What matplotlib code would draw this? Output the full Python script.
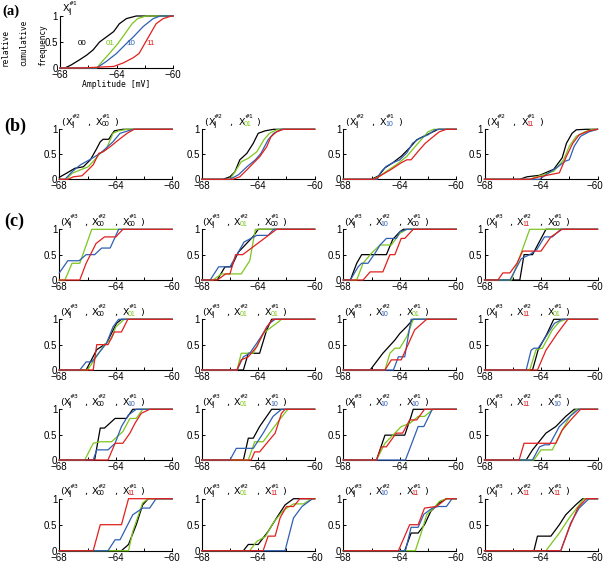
import numpy as np
import matplotlib.pyplot as plt
from matplotlib.transforms import ScaledTranslation

# colours of the four classes 00, 01, 10, 11
COLORS = {'00': '#000000', '01': '#7dc61e', '10': '#2f5fb4', '11': '#e0201e'}
CLASSES = ['00', '01', '10', '11']
XMIN, XMAX = -68, -60

# ---- (a) cumulative curves, (mV, relative cumulative frequency)
A = {
    '00': [(-67.65, 0), (-67.2, .06), (-66.6, .16), (-66.1, .25), (-65.65, .35), (-65.2, .5),
           (-64.7, .6), (-64.2, .7), (-63.8, .85), (-63.3, .95), (-62.6, 1)],
    '01': [(-65.4, 0), (-64.9, .16), (-64.5, .28), (-63.9, .47), (-63.4, .66), (-62.9, .85),
           (-62.5, .95), (-61.9, 1)],
    '10': [(-65.4, 0), (-64.7, .13), (-64.0, .28), (-63.3, .47), (-62.8, .6), (-62.1, .8),
           (-61.4, .95), (-60.9, 1)],
    '11': [(-66.5, 0), (-64.2, .03), (-63.5, .1), (-62.8, .2), (-62.4, .28), (-62.0, .47),
           (-61.6, .66), (-61.2, .85), (-60.7, .95), (-60.1, 1)],
}
A_LABEL_POS = {'00': (-66.4, .45), '01': (-64.45, .45), '10': (-63.0, .45), '11': (-61.6, .45)}

# ---- (b) X#2 given X#1
B_COND = ['00', '01', '10', '11']
B = [
    {'00': [(-68, .04), (-67.5, .12), (-66.9, .22), (-66.3, .25), (-65.8, .39), (-65.4, .59),
            (-65.1, .75), (-64.9, .8), (-64.5, .8), (-64.3, .89), (-64.1, .97), (-63.5, 1)],
     '01': [(-67.5, 0), (-67.1, .12), (-66.5, .19), (-65.95, .25), (-65.5, .39), (-65.1, .52),
            (-64.7, .59), (-64.3, .85), (-64.2, .92), (-63.8, .97), (-63.2, 1)],
     '10': [(-67.6, 0), (-67.1, .15), (-66.5, .29), (-65.8, .4), (-65.1, .52), (-64.7, .62),
            (-64.2, .75), (-63.7, .92), (-63.0, .98), (-62.7, 1)],
     '11': [(-67.4, 0), (-67.0, .05), (-66.4, .07), (-66.1, .15), (-65.6, .29), (-65.2, .52),
            (-64.9, .55), (-64.4, .65), (-63.8, .79), (-63.2, .92), (-62.7, 1)]},
    {'00': [(-66.5, 0), (-66.0, .05), (-65.65, .15), (-65.3, .39), (-64.8, .52), (-64.35, .72),
            (-64.0, .92), (-63.5, .97), (-62.9, 1)],
     '01': [(-66.0, 0), (-65.65, .15), (-65.2, .35), (-64.7, .42), (-64.1, .55), (-63.6, .79),
            (-63.2, .92), (-62.7, .99), (-62.35, 1)],
     '10': [(-66.0, 0), (-65.4, .09), (-64.8, .25), (-64.2, .39), (-63.8, .52), (-63.3, .79),
            (-62.9, .92), (-62.35, 1)],
     '11': [(-65.8, 0), (-65.3, .05), (-64.8, .19), (-64.35, .32), (-63.9, .45), (-63.4, .65),
            (-63.1, .85), (-62.7, .95), (-62.2, 1)]},
    {'00': [(-66.0, 0), (-65.5, .07), (-65.05, .23), (-64.5, .33), (-63.9, .46), (-63.3, .63),
            (-62.8, .79), (-62.1, .89), (-61.5, .97), (-61.3, 1)],
     '01': [(-65.9, 0), (-65.4, .07), (-64.95, .16), (-64.2, .3), (-63.5, .46), (-62.9, .66),
            (-62.4, .82), (-62.0, .95), (-61.6, 1)],
     '10': [(-65.6, 0), (-65.3, .16), (-64.95, .26), (-64.5, .33), (-64.0, .39), (-63.5, .53),
            (-63.1, .72), (-62.6, .82), (-62.0, .89), (-61.5, .99), (-61.2, 1)],
     '11': [(-65.8, 0), (-65.2, .1), (-64.6, .2), (-63.9, .33), (-63.5, .39), (-63.2, .39),
            (-62.7, .56), (-62.2, .72), (-61.6, .86), (-61.2, .95), (-60.7, 1)]},
    {'00': [(-65.5, 0), (-65.0, .05), (-64.1, .08), (-63.1, .2), (-62.5, .43), (-62.2, .72),
            (-61.8, .92), (-61.5, .99), (-60.8, 1)],
     '01': [(-64.8, 0), (-64.1, .07), (-63.1, .16), (-62.4, .39), (-62.0, .66), (-61.5, .86),
            (-60.9, .95), (-60.35, 1)],
     '10': [(-64.1, 0), (-63.6, .1), (-62.9, .23), (-62.3, .36), (-62.0, .39), (-61.65, .66),
            (-61.2, .86), (-60.6, .95), (-60.0, 1)],
     '11': [(-64.8, 0), (-64.1, .05), (-62.7, .13), (-62.2, .46), (-61.75, .72), (-61.3, .89),
            (-60.6, .97), (-60.0, 1)]},
]

# ---- (c) X#3 given (X#2, X#1); rows = X#1, cols = X#2
C_COND = [(r, c) for r in CLASSES for c in CLASSES]   # (X#1, X#2)
C = [
    # row X#1 = 00
    {'01': [(-67.6, 0), (-67.1, .33), (-66.55, .33), (-65.7, 1)],
     '10': [(-68, .14), (-67.4, .38), (-66.6, .38), (-66.1, .5), (-65.5, .5), (-65.0, .63),
            (-64.4, .63), (-63.8, 1)],
     '11': [(-66.55, 0), (-66.1, .33), (-65.4, .72), (-64.8, .85), (-64.0, .85), (-63.5, 1)]},
    {'00': [(-66.9, 0), (-66.35, .26), (-65.9, .26), (-65.4, .55), (-64.35, .86), (-64.0, 1)],
     '01': [(-67.2, 0), (-66.6, .12), (-65.2, .12), (-64.6, .38), (-64.2, 1)],
     '10': [(-67.4, 0), (-66.8, .26), (-66.0, .26), (-65.0, .75), (-64.1, .88), (-63.3, .88),
            (-62.9, 1)],
     '11': [(-66.9, 0), (-66.3, .12), (-66.0, .12), (-65.6, .5), (-65.1, .5), (-62.7, 1)]},
    {'00': [(-67.5, 0), (-67.05, .33), (-66.7, .5), (-64.95, .5), (-64.5, .8), (-64.0, .95),
            (-63.75, 1)],
     '01': [(-67.05, 0), (-66.6, .33), (-66.0, .53), (-65.4, .69), (-64.6, .69), (-64.0, .92),
            (-63.5, 1)],
     '10': [(-67.5, 0), (-66.95, .26), (-66.7, .33), (-66.25, .33), (-65.75, .53), (-65.4, .69),
            (-64.95, .82), (-64.25, .82), (-64.0, .95), (-63.5, 1)],
     '11': [(-66.6, 0), (-66.1, .16), (-65.2, .16), (-64.7, .5), (-64.35, .5), (-63.9, .82),
            (-63.65, .82), (-63.05, 1)]},
    {'00': [(-65.5, 0), (-65.2, .5), (-64.6, .5), (-63.65, 1)],
     '01': [(-66.1, 0), (-64.8, 1)],
     '10': [(-66.2, 0), (-65.4, .42), (-64.8, .5), (-64.3, .6), (-63.75, .85), (-63.2, .85),
            (-62.6, 1)],
     '11': [(-67.05, 0), (-66.7, .14), (-66.2, .14), (-65.7, .33), (-65.3, .57), (-64.0, .57),
            (-63.3, .85), (-62.5, 1)]},
    # row X#1 = 01
    {'00': [(-66.1, 0), (-65.35, .4), (-64.65, .53), (-63.95, .92), (-63.6, 1)],
     '01': [(-66.0, 0), (-64.8, .5), (-64.3, .62), (-64.0, .85), (-63.4, 1)],
     '10': [(-66.55, 0), (-66.1, .16), (-65.7, .16), (-64.65, .53), (-64.2, .85), (-63.8, 1)],
     '11': [(-65.6, 0), (-65.35, .5), (-64.55, .5), (-64.1, .75), (-63.6, .75), (-63.15, 1)]},
    {'00': [(-65.05, 0), (-64.7, .33), (-63.9, .33), (-63.4, .79), (-63.05, 1)],
     '01': [(-65.5, 0), (-65.2, .33), (-64.35, .33), (-63.65, .72), (-63.05, .85), (-62.7, .92),
            (-62.35, 1)],
     '10': [(-65.5, 0), (-65.05, .26), (-64.6, .33), (-64.1, .53), (-63.65, .72), (-63.2, .92),
            (-62.8, 1)],
     '11': [(-65.5, 0), (-65.2, .2), (-64.7, .26), (-64.1, .46), (-63.75, .66), (-63.4, .85),
            (-62.95, 1)]},
    {'00': [(-66.1, 0), (-65.2, .33), (-64.35, .59), (-64.0, .72), (-63.5, .86), (-63.05, 1)],
     '01': [(-65.05, 0), (-64.7, .33), (-64.35, .43), (-64.0, .43), (-63.5, .66), (-63.05, 1)],
     '10': [(-64.45, 0), (-64.1, .26), (-63.65, .26), (-63.2, 1)],
     '11': [(-65.05, 0), (-64.6, .2), (-63.9, .2), (-62.95, .79), (-62.1, 1)]},
    {'00': [(-64.6, 0), (-64.2, .4), (-63.6, .7), (-63.1, 1)],
     '01': [(-64.8, 0), (-64.35, .4), (-63.9, .43), (-63.2, .79), (-62.7, .95), (-62.25, 1)],
     '10': [(-65.05, 0), (-64.7, .39), (-64.5, .43), (-64.2, .43), (-63.65, .66), (-63.05, .92),
            (-62.5, 1)],
     '11': [(-64.25, 0), (-63.65, .39), (-62.85, .72), (-62.1, 1)]},
    # row X#1 = 10
    {'00': [(-65.5, 0), (-65.1, .63), (-64.8, .63), (-64.05, .82), (-63.25, .82), (-62.8, 1)],
     '01': [(-66.2, 0), (-65.6, .33), (-65.1, .36), (-64.3, .36), (-63.5, .56), (-63.0, .82),
            (-62.55, .82), (-62.1, 1)],
     '10': [(-65.6, 0), (-65.35, .2), (-64.55, .2), (-64.05, .33), (-63.6, .66), (-63.1, .89),
            (-62.55, 1)],
     '11': [(-64.55, 0), (-64.05, .33), (-63.5, .33), (-63.0, .53), (-62.65, .72), (-62.2, .92),
            (-61.6, 1)]},
    {'00': [(-65.05, 0), (-64.7, .43), (-64.35, .43), (-63.9, .66), (-63.4, .86), (-63.05, 1)],
     '01': [(-64.7, 0), (-64.25, .36), (-63.65, .36), (-63.2, .53), (-62.5, .79), (-61.9, 1)],
     '10': [(-66.0, 0), (-65.55, .23), (-64.35, .23), (-63.65, .53), (-62.95, .86), (-62.35, 1)],
     '11': [(-64.5, 0), (-64.25, .16), (-63.9, .16), (-63.4, .33), (-62.8, .53), (-62.35, .92),
            (-62.1, 1)]},
    {'00': [(-65.65, 0), (-65.05, .49), (-63.65, .49), (-63.2, .86), (-63.05, 1)],
     '01': [(-65.65, 0), (-65.05, .33), (-64.35, .53), (-63.9, .66), (-63.3, .72), (-62.7, .86),
            (-62.25, .86), (-61.65, 1)],
     '10': [(-63.6, 0), (-62.7, .66), (-62.3, .66), (-61.7, 1)],
     '11': [(-65.65, 0), (-65.3, .26), (-64.95, .26), (-64.25, .53), (-63.8, .53), (-63.3, .79),
            (-62.8, .79), (-62.25, 1)]},
    {'00': [(-65.05, 0), (-64.6, .2), (-63.65, .53), (-62.95, .66), (-62.25, .86), (-61.65, 1)],
     '01': [(-64.5, 0), (-64.0, .2), (-63.2, .2), (-62.5, .59), (-61.95, .86), (-61.5, 1)],
     '10': [(-64.6, 0), (-64.1, .26), (-63.75, .3), (-63.4, .3), (-62.7, .66), (-61.95, .86),
            (-61.35, 1)],
     '11': [(-65.55, 0), (-65.2, .33), (-62.95, .33), (-62.5, .59), (-61.8, .82), (-61.2, 1)]},
    # row X#1 = 11
    {'00': [(-63.6, 0), (-63.1, .12), (-62.55, .5), (-62.1, .88), (-61.7, 1)],
     '01': [(-63.1, 0), (-62.8, .37), (-62.3, .76), (-62.1, .92), (-61.7, 1)],
     '10': [(-64.55, 0), (-64.05, .21), (-63.7, .21), (-62.8, .69), (-62.1, .82), (-61.6, .82),
            (-61.15, 1)],
     '11': [(-65.6, 0), (-65.1, .5), (-63.6, .5), (-63.1, 1)]},
    {'00': [(-65.05, 0), (-64.7, .12), (-64.0, .12), (-63.3, .37), (-62.7, .63), (-62.1, .88),
            (-61.5, 1)],
     '01': [(-64.6, 0), (-64.1, .18), (-63.5, .27), (-62.9, .55), (-62.2, .78), (-61.5, .9),
            (-60.8, .9), (-60.2, 1)],
     '10': [(-62.1, 0), (-61.5, .63), (-60.9, .85), (-60.15, 1)],
     '11': [(-63.65, 0), (-63.3, .28), (-62.8, .28), (-62.45, .63), (-62.0, .85), (-61.5, .85),
            (-61.05, 1)]},
    {'00': [(-63.65, 0), (-63.2, .34), (-62.7, .34), (-62.25, .5), (-61.8, .76), (-61.2, .92),
            (-60.7, 1)],
     '01': [(-62.9, 0), (-62.45, .37), (-62.1, .69), (-61.5, .85), (-61.2, .95), (-60.7, 1)],
     '10': [(-63.6, 0), (-63.2, .45), (-62.7, .45), (-62.3, .7), (-61.7, .82), (-61.3, .85),
            (-60.7, .85), (-60.3, 1)],
     '11': [(-64.1, 0), (-63.3, .5), (-62.7, .5), (-62.25, .82), (-61.4, .85), (-60.7, 1)]},
    {'00': [(-64.5, 0), (-64.25, .28), (-63.3, .28), (-62.7, .5), (-62.25, .69), (-61.55, .88),
            (-61.05, 1)],
     '01': [(-63.65, 0), (-62.7, .34), (-62.0, .63), (-61.3, .88), (-60.95, 1)],
     '10': [(-62.6, 0), (-61.9, .53), (-61.3, .82), (-60.6, 1)],
     '11': [(-62.6, 0), (-62.0, .44), (-61.4, .82), (-60.8, 1)]},
]

# ---- layout in pixels (left, top of y=1, bottom of y=0)
W, H = 604, 562
AX_W = 113.0
COL_LEFT = [59.3, 201.7, 343.3, 484.5]
A_BOX = (60.0, 16.0, 68.0)
B_ROW = (129.3, 179.3)
C_ROWS = [(229.3, 280.0), (319.3, 370.0), (409.3, 460.0), (498.7, 550.7)]

TICK_FONT = 'Liberation Sans'
TITLE_FONT = 'DejaVu Sans'

fig = plt.figure(figsize=(W / 100, H / 100), dpi=100)


def make_ax(left, top, bottom):
    ax = fig.add_axes([left / W, 1 - bottom / H, AX_W / W, (bottom - top) / H])
    ax.set_xlim(XMIN, XMAX)
    ax.set_ylim(0, 1)
    ax.spines['top'].set_visible(False)
    ax.spines['right'].set_visible(False)
    for s in ('left', 'bottom'):
        ax.spines[s].set_linewidth(0.8)
    ax.set_xticks([-68, -64, -60])
    ax.set_xticks([-66, -62], minor=True)
    ax.set_yticks([0, 0.5, 1])
    ax.set_yticklabels(['0', '0.5', '1'])
    ax.set_xticklabels(['\u221268', '\u221264', '\u221260'])
    ax.tick_params(which='both', direction='in', length=2.2, width=0.7, pad=1.5,
                   labelsize=7.0)
    for lab in ax.get_xticklabels() + ax.get_yticklabels():
        lab.set_fontfamily(TICK_FONT)
    ax.patch.set_alpha(0)
    return ax


def nudge_last_label(ax):
    # keep the rightmost "-60" inside the figure edge
    lab = ax.get_xticklabels()[-1]
    lab.set_transform(lab.get_transform() + ScaledTranslation(-2.5 / 100, 0, fig.dpi_scale_trans))


def draw_curves(ax, curves):
    for cls in CLASSES:
        if cls not in curves:
            continue
        pts = curves[cls]
        xs = [XMIN] + [p[0] for p in pts] + [XMAX]
        ys = [pts[0][1]] + [p[1] for p in pts] + [pts[-1][1]]
        ax.plot(xs, ys, color=COLORS[cls], lw=0.9, clip_on=False, zorder=3)


def put(ax, s, dx, dy, size, color='black', family=TITLE_FONT):
    ax.annotate(s, xy=(0, 1), xycoords='axes fraction', xytext=(dx * 0.72, dy * 0.72),
                textcoords='offset points', ha='left', va='baseline', fontsize=size,
                color=color, family=family, annotation_clip=False)


def xvar(ax, x, sup, sub, sub_color='black'):
    # X with superscript #n and subscript class, positions in px
    put(ax, 'X', x, 4.6, 6.8)
    put(ax, sup, x + 5.6, 10.8, 4.3)
    put(ax, sub, x + 5.4, 3.4, 5.0, sub_color, TICK_FONT)


def sub_color(cls):
    return COLORS[cls] if cls != '00' else 'black'


# ---- panel (a)
ax = make_ax(A_BOX[0], A_BOX[1], A_BOX[2])
draw_curves(ax, A)
for cls, (x, y) in A_LABEL_POS.items():
    ax.text(x, y, cls, color=COLORS[cls], fontsize=5.8, family=TICK_FONT, ha='center')
xvar(ax, 3.0, '#1', 'ij')
ax.annotate('Amplitude [mV]', xy=(0.5, 0), xycoords='axes fraction', xytext=(0, -16.5 * 0.72),
            textcoords='offset points', ha='center', va='center', fontsize=5.9,
            family='DejaVu Sans Mono')
for i, word in enumerate(['relative', 'cumulative', 'frequency']):
    fig.text((5 + 19 * i) / W, 1 - 66.5 / H, word, rotation=90, ha='center', va='bottom',
             fontsize=5.6, family='DejaVu Sans Mono')

# ---- panel (b)
for j, cond in enumerate(B_COND):
    ax = make_ax(COL_LEFT[j], B_ROW[0], B_ROW[1])
    draw_curves(ax, B[j])
    if j == 3:
        nudge_last_label(ax)
    put(ax, '(', 2.0, 4.6, 6.8)
    xvar(ax, 6.6, '#2', 'ij')
    put(ax, ',', 27.5, 4.6, 6.8)
    xvar(ax, 36.8, '#1', cond, sub_color(cond))
    put(ax, ')', 54.5, 4.6, 6.8)

# ---- panel (c)
for k, (c1, c2) in enumerate(C_COND):
    r, j = divmod(k, 4)
    ax = make_ax(COL_LEFT[j], C_ROWS[r][0], C_ROWS[r][1])
    draw_curves(ax, C[k])
    if j == 3:
        nudge_last_label(ax)
    put(ax, '(', 0.8, 4.6, 6.8)
    xvar(ax, 4.2, '#3', 'ij')
    put(ax, ',', 24.5, 4.6, 6.8)
    xvar(ax, 32.2, '#2', c2, sub_color(c2))
    put(ax, ',', 55.0, 4.6, 6.8)
    xvar(ax, 63.2, '#1', c1, sub_color(c1))
    put(ax, ')', 80.5, 4.6, 6.8)

# panel letters
fig.text(2 / W, 1 - 15 / H, '(a)', fontsize=10.5, fontweight='bold', family='Liberation Serif')
fig.text(4 / W, 1 - 131 / H, '(b)', fontsize=13, fontweight='bold', family='Liberation Serif')
fig.text(4 / W, 1 - 226 / H, '(c)', fontsize=13, fontweight='bold', family='Liberation Serif')

fig.savefig('out.png', dpi=100)
